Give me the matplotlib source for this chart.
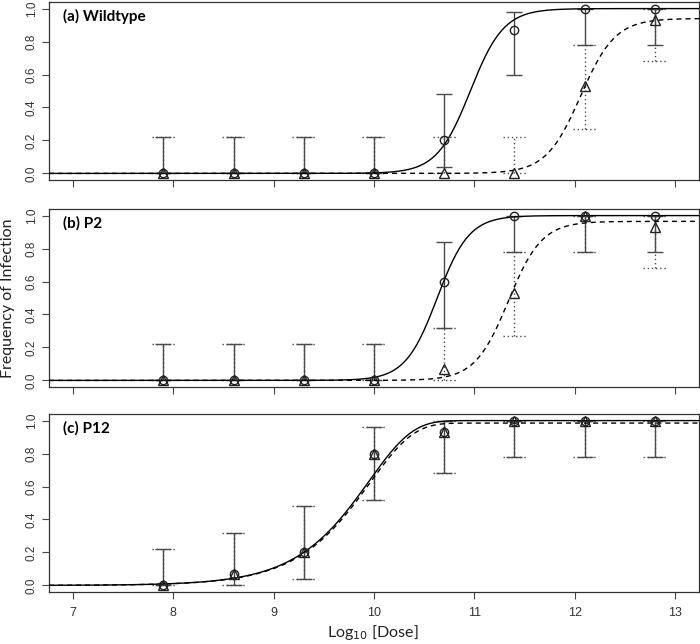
import matplotlib
matplotlib.use("Agg")
import matplotlib.pyplot as plt
import numpy as np

# dose positions (log10)
dose = [7.9, 8.6, 9.3, 10.0, 10.7, 11.4, 12.1, 12.8]

# (a) Wildtype
a_circ = [0, 0, 0, 0, 0.20, 0.87, 1.0, 1.0]
a_circ_lo = [0, 0, 0, 0, 0.04, 0.60, 0.78, 0.78]
a_circ_hi = [0.22, 0.22, 0.22, 0.22, 0.48, 0.98, 1.0, 1.0]
a_tri = [0, 0, 0, 0, 0, 0, 0.53, 0.93]
a_tri_lo = [0, 0, 0, 0, 0, 0, 0.27, 0.68]
a_tri_hi = [0.22, 0.22, 0.22, 0.22, 0.22, 0.22, 0.78, 1.0]

# (b) P2
b_circ = [0, 0, 0, 0, 0.60, 1.0, 1.0, 1.0]
b_circ_lo = [0, 0, 0, 0, 0.32, 0.78, 0.78, 0.78]
b_circ_hi = [0.22, 0.22, 0.22, 0.22, 0.84, 1.0, 1.0, 1.0]
b_tri = [0, 0, 0, 0, 0.07, 0.53, 1.0, 0.93]
b_tri_lo = [0, 0, 0, 0, 0, 0.27, 0.78, 0.68]
b_tri_hi = [0.22, 0.22, 0.22, 0.22, 0.32, 0.78, 1.0, 1.0]

# (c) P12 (both groups identical)
c_circ = [0, 0.07, 0.20, 0.80, 0.93, 1.0, 1.0, 1.0]
c_circ_lo = [0, 0, 0.04, 0.52, 0.68, 0.78, 0.78, 0.78]
c_circ_hi = [0.22, 0.32, 0.48, 0.96, 1.0, 1.0, 1.0, 1.0]
c_tri = c_circ
c_tri_lo = c_circ_lo
c_tri_hi = c_circ_hi

# fitted curve parameters: (plateau, slope, midpoint)
a_fit_solid = (1.0, 6.0, 10.96)
a_fit_dash = (0.94, 5.8, 12.06)
b_fit_solid = (1.0, 6.3, 10.63)
b_fit_dash = (0.965, 6.0, 11.34)
# exponential dose-response: (plateau, log10 scale)
c_fit_solid = (1.0, 9.95)
c_fit_dash = (0.985, 9.96)

panel_labels = ["(a) Wildtype", "(b) P2", "(c) P12"]

BAR = "#4a4a4a"
DOT = (0, (1, 2))
DASH = (0, (3.6, 2.9))


def logistic(x, p):
    top, k, x0 = p
    return top / (1 + np.exp(-k * (x - x0)))


def expo(x, p):
    top, c = p
    return top * (1 - np.exp(-10 ** (x - c)))


def bars(ax, x, lo, hi, ls, cw):
    ax.vlines(x, lo, hi, colors=BAR, linestyles=ls, lw=1, zorder=2)
    for xi, l, h in zip(x, lo, hi):
        ax.hlines([l, h], xi - cw / 2, xi + cw / 2, colors=BAR,
                  linestyles=ls, lw=1, zorder=2)


fig = plt.figure(figsize=(7, 6.44), dpi=100)
left, width = 49 / 700, 650 / 700
bottoms = [1 - 180 / 644, 1 - 387 / 644, 1 - 592 / 644]
h = 178 / 644

panels = [
    (a_circ, a_circ_lo, a_circ_hi, a_tri, a_tri_lo, a_tri_hi, logistic, a_fit_solid, a_fit_dash),
    (b_circ, b_circ_lo, b_circ_hi, b_tri, b_tri_lo, b_tri_hi, logistic, b_fit_solid, b_fit_dash),
    (c_circ, c_circ_lo, c_circ_hi, c_tri, c_tri_lo, c_tri_hi, expo, c_fit_solid, c_fit_dash),
]

xs = np.linspace(6.76, 13.24, 400)
for i, (cv, cl, ch, tv, tl, th, f, ps, pd) in enumerate(panels):
    ax = fig.add_axes([left, bottoms[i], width, h])
    bars(ax, dose, tl, th, DOT, 0.23)
    bars(ax, dose, cl, ch, "-", 0.16)
    ax.plot(xs, f(xs, ps), color="black", lw=1, zorder=3)
    ax.plot(xs, f(xs, pd), color="black", lw=1, linestyle=DASH, zorder=3)
    ax.plot(dose, cv, "o", ms=6, mfc="none", mec="#222", mew=1, zorder=4)
    ax.plot(dose, tv, "^", ms=6.5, mfc="none", mec="#222", mew=1, zorder=4)

    ax.set_xlim(6.76, 13.24)
    ax.set_ylim(-0.04, 1.04)
    ax.set_xticks(range(7, 14))
    ax.set_yticks([0, 0.2, 0.4, 0.6, 0.8, 1.0])
    ax.set_yticklabels(["0.0", "0.2", "0.4", "0.6", "0.8", "1.0"],
                       rotation=90, va="center", family="Liberation Sans",
                       fontsize=8.5, color="#333")
    ax.tick_params(direction="out", length=5, width=0.8, color="#444", pad=3)
    ax.tick_params(axis="x", pad=6)
    if i < 2:
        ax.set_xticklabels([])
    else:
        ax.set_xticklabels([str(t) for t in range(7, 14)],
                           family="Liberation Sans", fontsize=9, color="#333")
    for s in ax.spines.values():
        s.set_color("#333")
        s.set_linewidth(0.9)
    ax.text(0.022, 0.92, panel_labels[i], transform=ax.transAxes,
            family="Lato", fontweight="bold", fontsize=11, va="center")

fig.text(8 / 700, 1 - 298 / 644, "Frequency of Infection", rotation=90,
         va="center", ha="center", family="Lato", fontsize=11.5, color="#222")
fig.text(373 / 700, 1 - 633 / 644, "Log$_{10}$ [Dose]", va="center", ha="center",
         family="Lato", fontsize=11.5, color="#222")

fig.savefig("out.png", dpi=100)
